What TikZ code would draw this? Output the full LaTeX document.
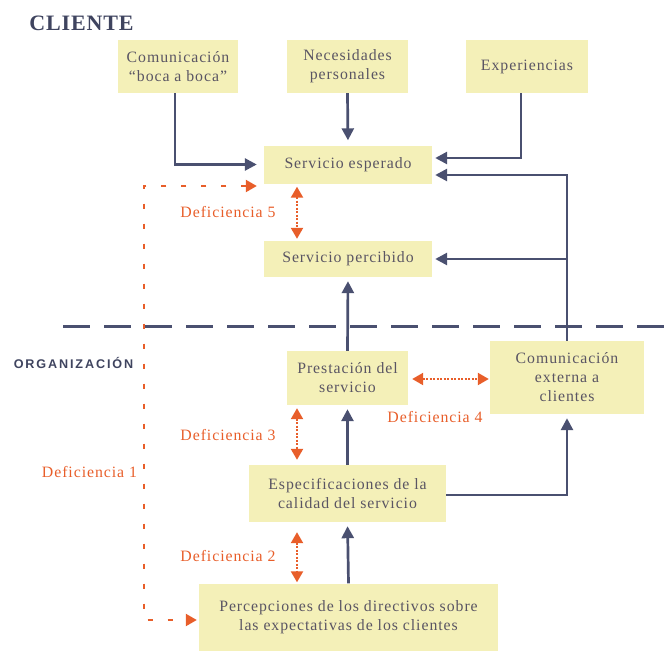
\documentclass[tikz,border=0pt]{standalone}
\usepackage{fontspec}
\usetikzlibrary{arrows.meta,calc}
\newfontfamily\boxfont{Liberation Serif}[LetterSpace=6]
\newfontfamily\titlefont{Liberation Serif}[LetterSpace=4]
\newfontfamily\orgfont{Liberation Sans}[LetterSpace=15]
\definecolor{boxfill}{HTML}{F4F0B8}
\definecolor{boxtext}{HTML}{5A5563}
\definecolor{connc}{HTML}{4A5070}
\definecolor{orng}{HTML}{E85E2A}
\begin{document}
\begin{tikzpicture}[x=1pt,y=-1pt,
  box/.style={fill=boxfill, draw=none, text=boxtext, align=center, inner sep=0pt,
    font=\boxfont\fontsize{15.8}{19}\selectfont},
  conn/.style={draw=connc, line width=2.7pt, -{Triangle[length=12pt,width=12pt]}},
  gaparrow/.style={draw=orng, line width=2.2pt, dash pattern=on 2pt off 1.5pt,
    {Triangle[length=11pt,width=12pt]}-{Triangle[length=11pt,width=12pt]}},
  d1line/.style={draw=orng, line width=2.2pt, dash pattern=on 5pt off 15pt,
    {Triangle[length=11pt,width=12pt]}-{Triangle[length=11pt,width=12pt]}},
  gaplabel/.style={text=orng, inner sep=0pt, font=\boxfont\fontsize{15.8}{18}\selectfont},
  sepline/.style={draw=connc, line width=3pt, dash pattern=on 27pt off 14pt}
]
\useasboundingbox (0,0) rectangle (670,651);

% titles
\node[inner sep=0pt, text=connc!85!black, font=\titlefont\bfseries\fontsize{22}{26}\selectfont] (cliente) at (81.5,23.5) {CLIENTE};
\node[inner sep=0pt, text=connc!85!black, font=\orgfont\bfseries\fontsize{12.6}{15}\selectfont] (org) at (73.5,363) {ORGANIZACIÓN};

% boxes
\node[box, minimum width=120, minimum height=53] (boca) at (178,66.5) {Comunicación\\“boca a boca”};
\node[box, minimum width=121, minimum height=53] (nec) at (347.5,66.5) {Necesidades\\personales};
\node[box, minimum width=122, minimum height=53] (exp) at (527,66.5) {Experiencias};
\node[box, minimum width=168, minimum height=38] (esp) at (348,164.5) {Servicio esperado};
\node[box, minimum width=168, minimum height=36] (perc) at (348,259) {Servicio percibido};
\node[box, minimum width=121, minimum height=54] (prest) at (347.5,378) {Prestación del\\servicio};
\node[box, minimum width=154, minimum height=73] (cext) at (567,377.5) {Comunicación\\externa a\\clientes};
\node[box, minimum width=197, minimum height=57] (espec) at (347.5,493.5) {Especificaciones de la\\calidad del servicio};
\node[box, minimum width=299, minimum height=68] (percep) at (348.5,617.5) {Percepciones de los directivos sobre\\las expectativas de los clientes};

% separator
\coordinate (sepa) at (63,326);
\coordinate (sepb) at (672,326);
\draw[sepline] (sepa) -- (sepb);

% client-side connectors
\draw[conn, shorten >=7pt] ([xshift=-3pt]boca.south) |- (esp.west);
\draw[conn, shorten >=5pt] (nec.south) -- (esp.north);
\draw[conn, shorten >=3pt] (exp.south -| 521,0) |- ([yshift=6.5pt]esp.east);
\draw[conn, shorten >=3pt] (cext.north) |- ([yshift=-10.5pt]esp.east);
\coordinate (branch) at (cext.north |- perc.east);
\draw[conn, shorten >=3pt] (branch) -- (perc.east);
\draw[conn, shorten >=4pt] (prest.north) -- (perc.south);
\draw[conn, shorten >=4pt] (espec.north) -- (prest.south);
\draw[conn, shorten >=4pt] (percep.north) -- (espec.south);
\draw[conn, shorten >=4pt] ([yshift=-1.5pt]espec.east) -| (cext.south);

% gaps
\coordinate (d1a) at (144,186);
\coordinate (d1b) at (144,620);
\draw[d1line, shorten <=7pt, shorten >=2pt] ([yshift=-21.5pt]esp.west) -- (d1a) -- (d1b) -- (percep.west |- d1b);
\draw[gaparrow, shorten <=3pt, shorten >=2pt] (esp.south -| 297,0) -- (perc.north -| 297,0);
\draw[gaparrow, shorten <=3pt, shorten >=5pt] (prest.south -| 297,0) -- (espec.north -| 297,0);
\draw[gaparrow, shorten <=10pt, shorten >=1pt] (espec.south -| 297,0) -- (percep.north -| 297,0);
\draw[gaparrow, shorten <=4pt, shorten >=1pt] (prest.east |- 0,379) -- (cext.west |- 0,379);

\node[gaplabel] (g5) at (228,212) {Deficiencia 5};
\node[gaplabel] (g3) at (228,435) {Deficiencia 3};
\node[gaplabel] (g2) at (228,556) {Deficiencia 2};
\node[gaplabel] (g1) at (89.5,472) {Deficiencia 1};
\node[gaplabel] (g4) at (435,417) {Deficiencia 4};
\end{tikzpicture}
\end{document}
